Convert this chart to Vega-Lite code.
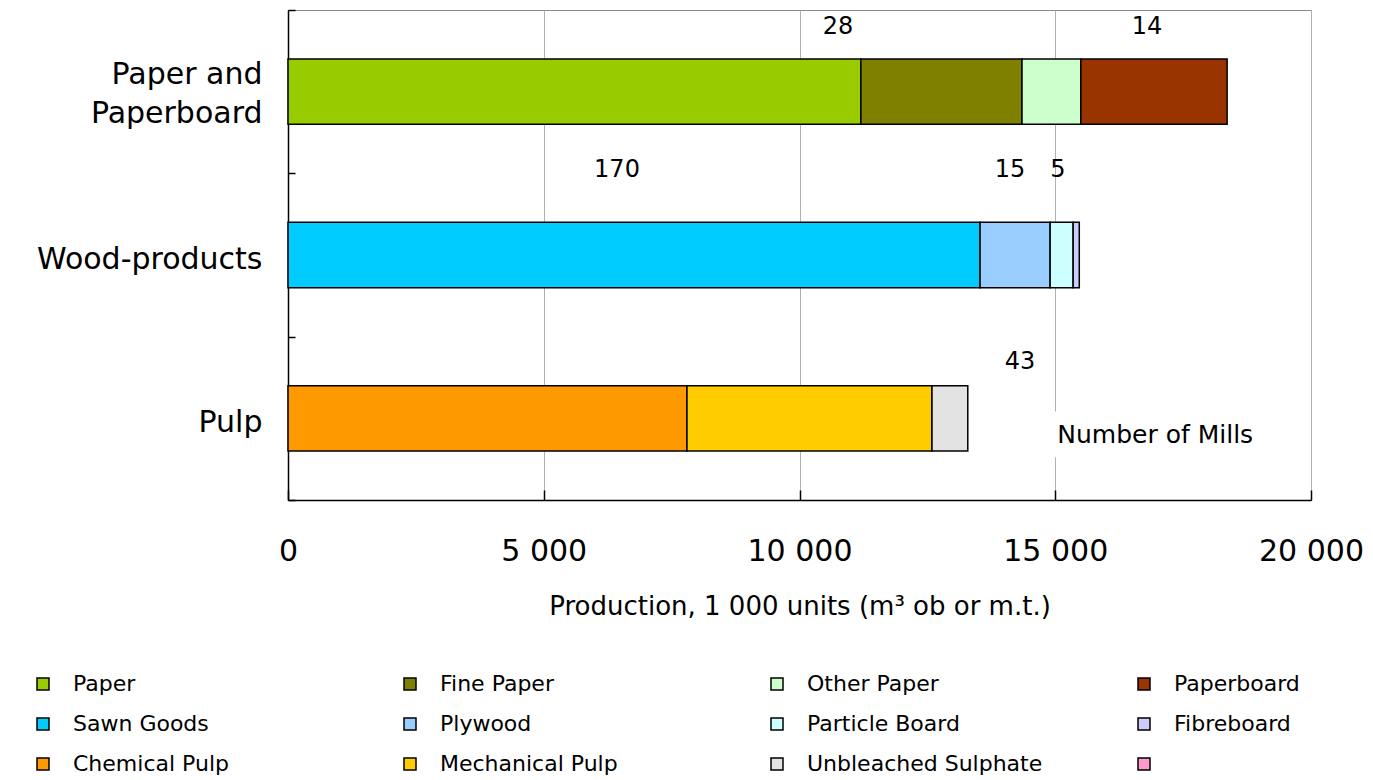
{
  "$schema": "https://vega.github.io/schema/vega-lite/v6.json",
  "autosize": {"type": "none"},
  "width": 1023,
  "height": 490,
  "padding": {"left": 288, "top": 10, "right": 62, "bottom": 280},
  "config": {
    "font": "DejaVu Sans",
    "locale": {"number": {"decimal": ".", "thousands": " ", "grouping": [3], "currency": ["", ""]}},
    "view": {"stroke": "#8a8a8a", "strokeWidth": 1}
  },
  "datasets": {
    "prod": [
      {"group": "Paper and Paperboard", "item": "Paper", "value": 11200, "rank": 1},
      {"group": "Paper and Paperboard", "item": "Fine Paper", "value": 3150, "rank": 2},
      {"group": "Paper and Paperboard", "item": "Other Paper", "value": 1150, "rank": 3},
      {"group": "Paper and Paperboard", "item": "Paperboard", "value": 2860, "rank": 4},
      {"group": "Wood-products", "item": "Sawn Goods", "value": 13530, "rank": 5},
      {"group": "Wood-products", "item": "Plywood", "value": 1370, "rank": 6},
      {"group": "Wood-products", "item": "Particle Board", "value": 450, "rank": 7},
      {"group": "Wood-products", "item": "Fibreboard", "value": 120, "rank": 8},
      {"group": "Pulp", "item": "Chemical Pulp", "value": 7800, "rank": 9},
      {"group": "Pulp", "item": "Mechanical Pulp", "value": 4790, "rank": 10},
      {"group": "Pulp", "item": "Unbleached Sulphate", "value": 700, "rank": 11}
    ],
    "mills": [
      {"group": "Paper and Paperboard", "x": 10753, "label": "28"},
      {"group": "Paper and Paperboard", "x": 16793, "label": "14"},
      {"group": "Wood-products", "x": 6432, "label": "170"},
      {"group": "Wood-products", "x": 14115, "label": "15"},
      {"group": "Wood-products", "x": 15054, "label": "5"},
      {"group": "Pulp", "x": 14311, "label": "43"}
    ]
  },
  "encoding": {
    "y": {
      "field": "group",
      "type": "nominal",
      "sort": ["Paper and Paperboard", "Wood-products", "Pulp"],
      "scale": {"domain": ["Paper and Paperboard", "Wood-products", "Pulp"], "paddingInner": 0, "paddingOuter": 0},
      "axis": {
        "title": null,
        "tickBand": "extent",
        "domainColor": "#000000",
        "domainWidth": 1.5,
        "tickColor": "#000000",
        "tickWidth": 1.5,
        "tickSize": -7,
        "labelFontSize": 30,
        "labelColor": "#000000",
        "labelPadding": 33,
        "labelLineHeight": 39,
        "labelLimit": 400,
        "labelExpr": "datum.value == 'Paper and Paperboard' ? ['Paper and', 'Paperboard'] : datum.label",
        "labelOffset": {"condition": {"test": "datum.value == 'Paper and Paperboard'", "value": -17}, "value": 4}
      }
    }
  },
  "layer": [
    {
      "data": {"name": "prod"},
      "mark": {"type": "bar", "stroke": "#000000", "strokeWidth": 1.5, "height": {"band": 0.4}},
      "encoding": {
        "x": {
          "field": "value",
          "type": "quantitative",
          "stack": "zero",
          "scale": {"domain": [0, 20000], "nice": false},
          "axis": {
            "title": "Production,  1 000 units (m³ ob or m.t.)",
            "titleFontSize": 26,
            "titleFontWeight": "normal",
            "titleColor": "#000000",
            "titlePadding": 27,
            "values": [0, 5000, 10000, 15000, 20000],
            "format": ",d",
            "labelFontSize": 30,
            "labelColor": "#000000",
            "labelFlush": false,
            "labelPadding": 46,
            "tickSize": -10,
            "tickColor": "#000000",
            "tickWidth": 1.5,
            "domainColor": "#000000",
            "domainWidth": 1.5,
            "grid": true,
            "gridColor": "#b0b0b0",
            "gridWidth": 1
          }
        },
        "color": {
          "field": "item",
          "type": "nominal",
          "scale": {
            "domain": ["Paper", "Fine Paper", "Other Paper", "Paperboard", "Sawn Goods", "Plywood", "Particle Board", "Fibreboard", "Chemical Pulp", "Mechanical Pulp", "Unbleached Sulphate", " "],
            "range": ["#99CC00", "#808000", "#CCFFCC", "#993300", "#00CCFF", "#99CCFF", "#CCFFFF", "#CCCCFF", "#FF9900", "#FFCC00", "#E3E3E3", "#FF99CC"]
          },
          "legend": {
            "title": null,
            "orient": "none",
            "legendX": -256,
            "legendY": 663,
            "direction": "horizontal",
            "columns": 4,
            "gridAlign": "all",
            "symbolType": "square",
            "symbolSize": 144,
            "symbolStrokeColor": "#000000",
            "symbolStrokeWidth": 1.5,
            "labelFontSize": 22,
            "labelColor": "#000000",
            "labelOffset": 19,
            "labelLimit": 400,
            "rowPadding": 18,
            "columnPadding": 90
          }
        },
        "order": {"field": "rank", "type": "quantitative"}
      }
    },
    {
      "data": {"values": [{}]},
      "mark": {"type": "bar", "fill": "#ffffff", "height": {"band": 0.28}, "yOffset": 16},
      "encoding": {
        "x": {"datum": 14800, "type": "quantitative"},
        "x2": {"datum": 19300},
        "y": {"datum": "Pulp", "type": "nominal"}
      }
    },
    {
      "data": {"values": [{}]},
      "mark": {"type": "text", "align": "left", "baseline": "middle", "fontSize": 25, "color": "#000000"},
      "encoding": {
        "x": {"datum": 15040, "type": "quantitative"},
        "y": {"datum": "Pulp", "type": "nominal", "bandPosition": 0.6},
        "text": {"value": "Number of Mills"}
      }
    },
    {
      "data": {"name": "mills"},
      "transform": [{"filter": "datum.group == 'Paper and Paperboard'"}],
      "mark": {"type": "text", "align": "center", "baseline": "middle", "fontSize": 24, "color": "#000000"},
      "encoding": {
        "x": {"field": "x", "type": "quantitative"},
        "y": {"field": "group", "type": "nominal", "bandPosition": 0.105},
        "text": {"field": "label"}
      }
    },
    {
      "data": {"name": "mills"},
      "transform": [{"filter": "datum.group == 'Wood-products'"}],
      "mark": {"type": "text", "align": "center", "baseline": "middle", "fontSize": 24, "color": "#000000"},
      "encoding": {
        "x": {"field": "x", "type": "quantitative"},
        "y": {"field": "group", "type": "nominal", "bandPosition": -0.018},
        "text": {"field": "label"}
      }
    },
    {
      "data": {"name": "mills"},
      "transform": [{"filter": "datum.group == 'Pulp'"}],
      "mark": {"type": "text", "align": "center", "baseline": "middle", "fontSize": 24, "color": "#000000"},
      "encoding": {
        "x": {"field": "x", "type": "quantitative"},
        "y": {"field": "group", "type": "nominal", "bandPosition": 0.153},
        "text": {"field": "label"}
      }
    }
  ]
}
